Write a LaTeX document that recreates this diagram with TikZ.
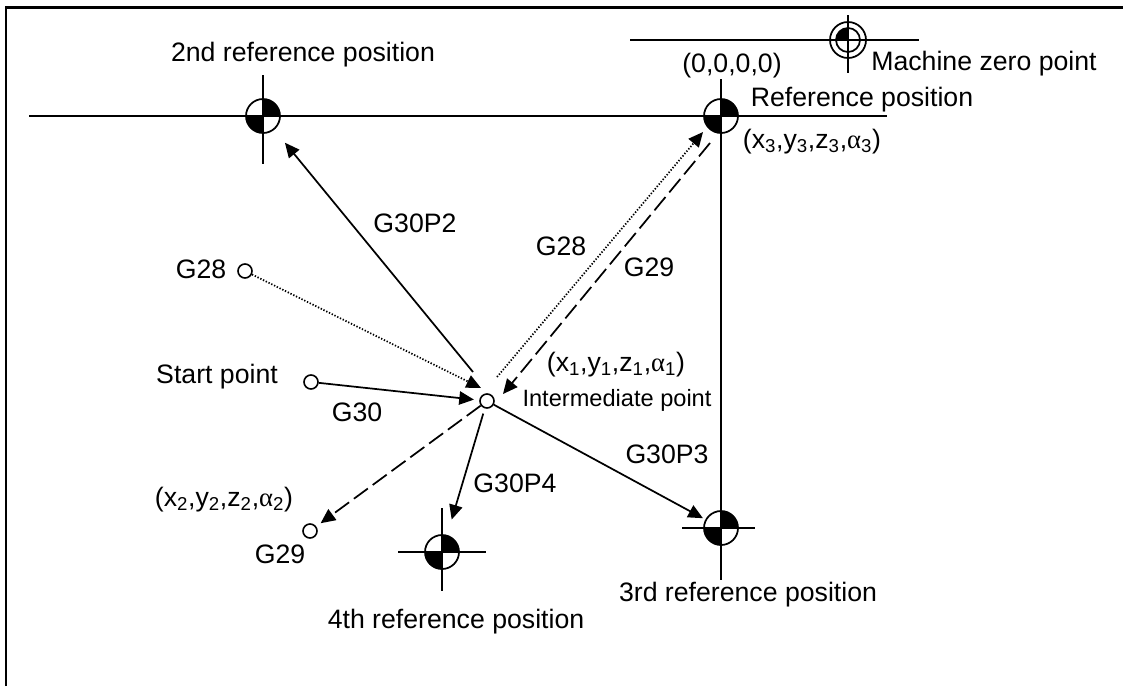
\documentclass[tikz,border=0pt]{standalone}
\usepackage{fontspec}
\setmainfont{Liberation Sans}
\newfontfamily\symfont{Liberation Serif}
\usetikzlibrary{arrows.meta}
\newcommand{\alf}{{\symfont α}}
\newcommand{\pos}[1]{(x\textsubscript{#1},y\textsubscript{#1},z\textsubscript{#1},\alf\textsubscript{#1})}
\tikzset{
  lbl/.style    ={font=\fontsize{20}{24}\selectfont, inner sep=0pt, yshift=-1.2pt},
  small/.style  ={font=\fontsize{17.7}{21}\selectfont, inner sep=0pt, yshift=-1.2pt},
  pt/.style     ={circle, draw=black, line width=1.2pt, fill=white, minimum size=10.5pt, inner sep=0pt},
  refmark/.style={circle, draw=black, line width=1.3pt, fill=white, minimum size=25.5pt, inner sep=0pt,
                  path picture={
                    \fill[black] (path picture bounding box.center) rectangle (path picture bounding box.north east);
                    \fill[black] (path picture bounding box.center) rectangle (path picture bounding box.south west);}},
  zeromark/.style={circle, draw=black, line width=1.3pt, fill=white, minimum size=18pt, inner sep=0pt,
                  path picture={
                    \fill[black] (path picture bounding box.center) rectangle (path picture bounding box.north west);}},
  zeroring/.style={circle, draw=black, line width=1.3pt, fill=white, minimum size=27pt, inner sep=0pt},
  ax/.style     ={draw=black, line width=1.3pt},
  ar/.style     ={-{Triangle[length=11pt,width=10pt]}, draw=black, line width=1.3pt},
  ardash/.style ={ar, dash pattern=on 13pt off 4.5pt},
  ardot/.style  ={ar, dash pattern=on 1pt off 1.3pt},
}
\begin{document}
\begin{tikzpicture}[x=0.75pt,y=-0.75pt]
\useasboundingbox (0,0) rectangle (1123,686);
\draw[line width=1.8pt] (6,686) -- (6,7.5) -- (1123,7.5);
% marks
\node[refmark] (ref2) at (263,116) {};
\node[refmark] (refp) at (721,116) {};
\node[refmark] (ref3) at (721,528) {};
\node[refmark] (ref4) at (442,552) {};
\node[zeroring] (zring) at (848,40) {};
\node[zeromark] (zero) at (848,40) {};
\coordinate (axl) at (29,116);
\coordinate (axr) at (887,116);
\coordinate (axt) at (721,79);
\coordinate (axb) at (721,580);
\draw[ax] (axl) -- (axr);
\draw[ax] (axt) -- (axb);
\draw[ax] (263,75) -- (263,164);
\draw[ax] (682,528) -- (755,528);
\draw[ax] (442,508) -- (442,591);
\draw[ax] (398,552) -- (486,552);
\draw[ax] (630,40) -- (919,40);
\draw[ax] (848,15) -- (848,73);
% points
\node[pt] (ip) at (487,401) {};
\node[pt] (sp) at (311,382) {};
\node[pt] (c28) at (245,271) {};
\node[pt] (c29) at (310,531) {};
% arrows
\coordinate (s2) at (473,372);
\coordinate (t28) at (481,388);
\coordinate (s28) at (497,377);
\coordinate (t28r) at (703,132);
\coordinate (s29) at (710,143);
\coordinate (t29) at (503,394);
\draw[ar, shorten >=4pt] (sp) -- (ip);
\draw[ar, shorten >=12.5pt] (s2) -- (ref2);
\draw[ar, shorten <=4pt, shorten >=12pt] (ip) -- (ref4);
\draw[ar, shorten >=2pt] (ip) -- (ref3);
\draw[ardash, shorten >=4pt] (ip) -- (c29);
\draw[ardot] (c28) -- (t28);
\draw[ardot] (s28) -- (t28r);
\draw[ardash] (s29) -- (t29);
% labels
\node[lbl] (l2nd) at (303,53) {2nd reference position};
\node[lbl] (l0) at (732,64) {(0,0,0,0)};
\node[lbl] (lzero) at (984,62) {Machine zero point};
\node[lbl] (lref) at (862,98) {Reference position};
\node[lbl] (lx3) at (812,140) {\pos{3}};
\node[lbl] (lp2) at (415,222) {G30P2};
\node[lbl] (lg28l) at (201,268) {G28};
\node[lbl] (lg28) at (561,245) {G28};
\node[lbl] (lg29) at (649,266) {G29};
\node[lbl] (lsp) at (217,375) {Start point};
\node[lbl] (lg30) at (357,411) {G30};
\node[lbl] (lx1) at (616,363) {\pos{1}};
\node[small] (lip) at (617,399) {Intermediate point};
\node[lbl] (lp3) at (667,453) {G30P3};
\node[lbl] (lp4) at (515,482) {G30P4};
\node[lbl] (lx2) at (224,498) {\pos{2}};
\node[lbl] (lg29b) at (280,553) {G29};
\node[lbl] (l4th) at (456,620) {4th reference position};
\node[lbl] (l3rd) at (748,593) {3rd reference position};
\end{tikzpicture}
\end{document}
